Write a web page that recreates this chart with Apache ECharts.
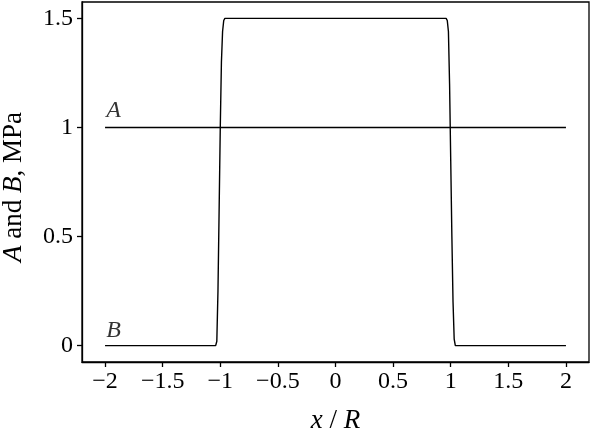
<!DOCTYPE html>
<html>
<head>
<meta charset="utf-8">
<script src="https://cdn.jsdelivr.net/npm/echarts@6/dist/echarts.min.js"></script>
<style>
  html, body { margin: 0; padding: 0; background: #fff; }
  #main { width: 590px; height: 437px; }
</style>
</head>
<body>
<div id="main"></div>
<script>
// x / R positions of the curves
const xA = [-2, 2];
const valA = [1, 1];

const xB = [-2, -1.04, -1.03, -1.02, -1.01, -1.0, -0.99, -0.98, -0.97, -0.96,
            0.96, 0.97, 0.98, 0.99, 1.0, 1.01, 1.02, 1.03, 1.04, 2];
const valB = [0, 0, 0.02, 0.25, 0.62, 1.0, 1.3, 1.44, 1.49, 1.5,
              1.5, 1.49, 1.44, 1.2, 0.85, 0.5, 0.2, 0.03, 0, 0];

const xTicks = [-2, -1.5, -1, -0.5, 0, 0.5, 1, 1.5, 2];
const yTicks = [0, 0.5, 1, 1.5];

// curve names placed just above the start of each line
const curveLabels = [['A', -1.99, 1.075], ['B', -1.99, 0.07]];

const font = '"Times New Roman", "Liberation Serif", serif';
const minus = v => String(v).replace('-', '\u2212');

const myChart = echarts.init(document.getElementById('main'), null, { renderer: 'canvas' });

const italic = { fontFamily: font, fontSize: 27, fontStyle: 'italic', color: '#000' };

let option = {
    animation: false,
    backgroundColor: '#fff',
    grid: {
        left: 82, right: 1, top: 2, bottom: 75,
        show: true, borderColor: '#000', borderWidth: 1.3,
        outerBoundsMode: 'none'
    },
    xAxis: {
        type: 'value',
        min: -2.2, max: 2.2,
        name: '{i|x} / {i|R}',
        nameLocation: 'middle',
        nameGap: 45,
        nameTextStyle: { fontFamily: font, fontSize: 27, color: '#000', rich: { i: italic } },
        axisLine: { show: true, onZero: false, lineStyle: { color: '#000', width: 1.3 } },
        axisTick: { show: true, length: 5, customValues: xTicks, lineStyle: { color: '#000', width: 1.3 } },
        axisLabel: {
            customValues: xTicks, margin: 8,
            fontFamily: font, fontSize: 24, color: '#000',
            formatter: minus
        },
        splitLine: { show: false }
    },
    yAxis: {
        type: 'value',
        min: -0.075, max: 1.575,
        name: '{i|A} and {i|B}, MPa',
        nameLocation: 'middle',
        nameGap: 55,
        nameTextStyle: { fontFamily: font, fontSize: 27, color: '#000', rich: { i: italic }, padding: [0, 10, 0, 0] },
        axisLine: { show: true, onZero: false, lineStyle: { color: '#000', width: 1.3 } },
        axisTick: { show: true, length: 5, customValues: yTicks, lineStyle: { color: '#000', width: 1.3 } },
        axisLabel: {
            customValues: yTicks, margin: 9,
            fontFamily: font, fontSize: 24, color: '#000',
            formatter: minus
        },
        splitLine: { show: false }
    },
    series: [
        {
            name: 'A', type: 'line',
            data: xA.map((x, i) => [x, valA[i]]),
            showSymbol: false,
            lineStyle: { color: '#000', width: 1.4 }
        },
        {
            name: 'B', type: 'line',
            data: xB.map((x, i) => [x, valB[i]]),
            showSymbol: false, smooth: false,
            lineStyle: { color: '#000', width: 1.4 }
        },
        {
            type: 'scatter',
            symbolSize: 0,
            data: curveLabels.map(d => ({ value: [d[1], d[2]], name: d[0] })),
            label: {
                show: true, position: 'right', distance: 0,
                formatter: '{b}',
                fontFamily: font, fontSize: 24, fontStyle: 'italic', color: '#000'
            }
        }
    ]
};
myChart.setOption(option);
</script>
</body>
</html>
